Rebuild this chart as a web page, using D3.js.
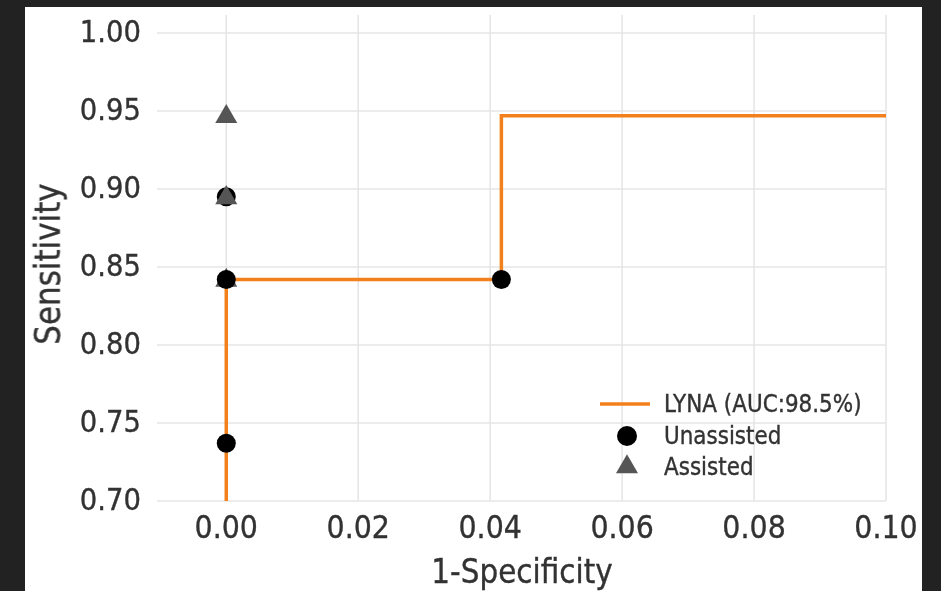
<!DOCTYPE html>
<html>
<head>
<meta charset="utf-8">
<script src="https://cdn.jsdelivr.net/npm/d3@7"></script>
<style>
  html, body { margin: 0; padding: 0; background: #222; }
  svg { display: block; }
  text { font-family: "DejaVu Sans", sans-serif; fill: #333; stroke: #333; stroke-width: 0.35px; }
</style>
</head>
<body>
<svg id="chart" width="941" height="591"></svg>
<script>
// ---- data ----
const xTicks = [0.00, 0.02, 0.04, 0.06, 0.08, 0.10];
const yTicks = [0.70, 0.75, 0.80, 0.85, 0.90, 0.95, 1.00];
const rocFpr = [0, 0, 0.0417, 0.0417, 0.10];
const rocTpr = [0.70, 0.842, 0.842, 0.947, 0.947];
const unassistedX = [0, 0, 0, 0.0417];
const unassistedY = [0.895, 0.737, 0.842, 0.842];
const assistedX = [0, 0, 0];
const assistedY = [0.947, 0.842, 0.895];
const legendLabels = ["LYNA (AUC:98.5%)", "Unassisted", "Assisted"];
const xLabel = "1-Specificity";
const yLabel = "Sensitivity";

const svg = d3.select("#chart");
const stretch = 1.12;

const defs = svg.append("defs");
defs.append("filter").attr("id", "soft")
  .append("feGaussianBlur").attr("stdDeviation", 0.55);

// panel
svg.append("rect").attr("x", 25).attr("y", 7).attr("width", 897).attr("height", 590).attr("fill", "#fff");

const root = svg.append("g").attr("filter", "url(#soft)");

const x = d3.scaleLinear().domain([-0.0105, 0.10]).range([157, 886]);
const y = d3.scaleLinear().domain([0.70, 1.00]).range([501, 33]);
const yTop = 1.0115;

const lineColor = "#f2801a";

// grid
const grid = root.append("g");
grid.selectAll("line.h").data(yTicks).join("line")
  .attr("x1", x(-0.0105)).attr("x2", x(0.10))
  .attr("y1", d => y(d)).attr("y2", d => y(d))
  .attr("stroke", "#e6e6e6").attr("stroke-width", 1.6);
grid.selectAll("line.v").data(xTicks).join("line")
  .attr("x1", d => x(d)).attr("x2", d => x(d))
  .attr("y1", y(yTop)).attr("y2", y(0.70))
  .attr("stroke", "#e6e6e6").attr("stroke-width", 1.6);

// text helper
function stretchedText(g, tx, ty, str, size, anchor, rotate) {
  return g.append("text")
    .attr("transform", `translate(${tx},${ty})` + (rotate ? ` rotate(${rotate})` : "") + ` scale(1,${stretch})`)
    .attr("text-anchor", anchor)
    .attr("dominant-baseline", "central")
    .style("font-size", size + "px")
    .text(str);
}
const labels = root.append("g");
yTicks.forEach(v => stretchedText(labels, 141, y(v) - 2, v.toFixed(2), 27.5, "end"));
xTicks.forEach(v => stretchedText(labels, x(v), 527, v.toFixed(2), 28.5, "middle"));
stretchedText(labels, 522, 571, xLabel, 29.5, "middle");
stretchedText(labels, 48, 264, yLabel, 31, "middle", -90);

// ROC line
const rocData = rocFpr.map((f, i) => [f, rocTpr[i]]);
root.append("path")
  .datum(rocData)
  .attr("d", d3.line().x(d => x(d[0])).y(d => y(d[1])))
  .attr("fill", "none")
  .attr("stroke", lineColor)
  .attr("stroke-width", 3.5);

// markers, interleaved by reader
const tri = d3.symbol().type(d3.symbolTriangle).size(210);
const pts = root.append("g");
const n = Math.max(unassistedX.length, assistedX.length);
for (let i = 0; i < n; i++) {
  if (i < unassistedX.length) {
    pts.append("circle")
      .attr("cx", x(unassistedX[i])).attr("cy", y(unassistedY[i]))
      .attr("r", 9.5).attr("fill", "#000");
  }
  if (i < assistedX.length) {
    pts.append("path")
      .attr("d", tri())
      .attr("transform", `translate(${x(assistedX[i])},${y(assistedY[i]) + 1})`)
      .attr("fill", "#555");
  }
}

// legend
const lg = root.append("g");
lg.append("line").attr("x1", 600).attr("x2", 650).attr("y1", 404).attr("y2", 404)
  .attr("stroke", lineColor).attr("stroke-width", 3.5);
lg.append("circle").attr("cx", 627).attr("cy", 436).attr("r", 10).attr("fill", "#000");
lg.append("path").attr("d", tri()).attr("transform", "translate(627,467)").attr("fill", "#555");
[404, 436, 467].forEach((yy, i) => stretchedText(lg, 664, yy, legendLabels[i], 21.5, "start"));
</script>
</body>
</html>
